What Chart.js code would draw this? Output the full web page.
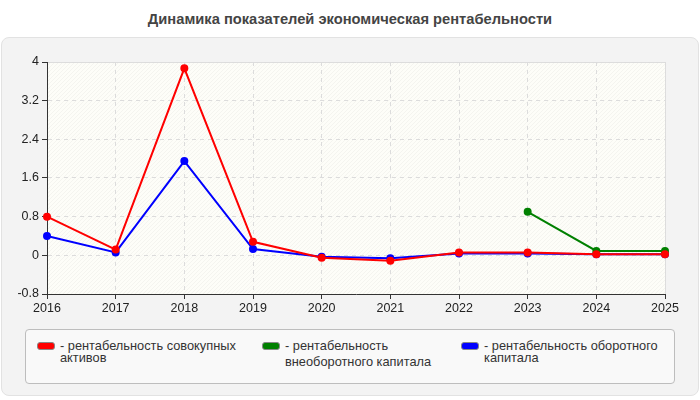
<!DOCTYPE html>
<html>
<head>
<meta charset="utf-8">
<script src="https://cdn.jsdelivr.net/npm/chart.js@4"></script>
<style>
  body { margin: 0; width: 700px; height: 400px; background: #fff; font-family: "Liberation Sans", Arial, sans-serif; position: relative; overflow: hidden; }
  #title { position: absolute; top: 11px; left: 0; width: 700px; text-align: center; font-weight: bold; font-size: 14.7px; color: #444; }
  #panel { position: absolute; left: 1px; top: 37px; width: 696px; height: 357px; background: #f3f3f3; border: 1px solid #e2e2e2; border-radius: 8px; }
  #wrap { position: absolute; left: 0; top: 40px; width: 700px; height: 280px; }
  #legend { position: absolute; left: 25px; top: 329px; width: 648px; height: 53px; background: #f9f9f9; border: 1px solid #bdbdbd; border-radius: 4px; }
  .item { position: absolute; top: 10px; font-size: 12.8px; color: #333; line-height: 12px; white-space: nowrap; }
  .sw { position: absolute; left: 0; top: 2px; width: 16px; height: 6px; border: 1px solid #888; border-radius: 3px; }
  .txt { position: absolute; left: 23px; top: 0; white-space: nowrap; }
</style>
</head>
<body>
<div id="title">Динамика показателей экономическая рентабельности</div>
<div id="panel"></div>
<div id="wrap"><canvas id="myChart" width="700" height="280"></canvas></div>
<div id="legend"></div>
<script>
const years = ["2016", "2017", "2018", "2019", "2020", "2021", "2022", "2023", "2024", "2025"];
const seriesNames = [
  ["рентабельность совокупных", "активов"],
  ["рентабельность", "внеоборотного капитала"],
  ["рентабельность оборотного", "капитала"]
];
const seriesColors = ["#ff0000", "#008000", "#0000ff"];
const totalAssets = [0.8, 0.12, 3.87, 0.28, -0.05, -0.11, 0.06, 0.06, 0.02, 0.02];
const fixedCapital = [null, null, null, null, null, null, null, 0.9, 0.09, 0.09];
const workingCapital = [0.4, 0.06, 1.95, 0.13, -0.03, -0.06, 0.04, 0.04, 0.02, 0.02];
const yTicks = [-0.8, 0, 0.8, 1.6, 2.4, 3.2, 4];

// legend in html (texts wrap over two lines)
const legendLeft = [11, 236, 435];
const legendBox = document.getElementById('legend');
seriesNames.forEach((name, i) => {
  const item = document.createElement('div');
  item.className = 'item';
  item.style.left = legendLeft[i] + 'px';
  const sw = document.createElement('div');
  sw.className = 'sw';
  sw.style.background = seriesColors[i];
  const txt = document.createElement('div');
  txt.className = 'txt';
  txt.innerHTML = '- ' + name[0] + '<br>' + (i === 1 ? '<span style="display:inline-block;margin-top:4px">' + name[1] + '</span>' : name[1]);
  item.appendChild(sw);
  item.appendChild(txt);
  legendBox.appendChild(item);
});

// striped plot background
const plotBg = {
  id: 'plotBg',
  beforeDraw(chart) {
    const { ctx, chartArea: a } = chart;
    ctx.save();
    ctx.fillStyle = '#fdfdf8';
    ctx.fillRect(a.left, a.top, a.right - a.left, a.bottom - a.top);
    ctx.beginPath();
    ctx.rect(a.left, a.top, a.right - a.left, a.bottom - a.top);
    ctx.clip();
    ctx.strokeStyle = 'rgba(0,0,0,0.035)';
    ctx.lineWidth = 1;
    for (let x = a.left - (a.bottom - a.top); x < a.right; x += 4) {
      ctx.beginPath();
      ctx.moveTo(x, a.bottom);
      ctx.lineTo(x + (a.bottom - a.top), a.top);
      ctx.stroke();
    }
    ctx.restore();
    // light frame top/right
    ctx.save();
    ctx.strokeStyle = '#dddddd';
    ctx.beginPath();
    ctx.moveTo(a.left, a.top + 0.5);
    ctx.lineTo(a.right + 0.5, a.top + 0.5);
    ctx.lineTo(a.right + 0.5, a.bottom);
    ctx.stroke();
    ctx.restore();
  }
};

const mk = (label, data, color) => ({
  label: label.join(' '),
  data: data,
  borderColor: color,
  backgroundColor: color,
  borderWidth: 2,
  pointRadius: 3,
  pointHoverRadius: 3,
  tension: 0,
  spanGaps: false
});

const ctx = document.getElementById('myChart').getContext('2d');
const myChart = new Chart(ctx, {
  type: 'line',
  data: {
    labels: years,
    datasets: [
      mk(seriesNames[0], totalAssets, seriesColors[0]),
      mk(seriesNames[1], fixedCapital, seriesColors[1]),
      mk(seriesNames[2], workingCapital, seriesColors[2])
    ]
  },
  plugins: [plotBg],
  options: {
    responsive: false,
    animation: false,
    layout: { padding: { top: 22, right: 35, left: 0, bottom: 0 } },
    plugins: { legend: { display: false }, title: { display: false }, tooltip: { enabled: false } },
    scales: {
      x: {
        offset: false,
        afterFit: s => { s.height = 26; },
        grid: { color: '#dcdcdc', tickColor: '#333', tickLength: 5, drawOnChartArea: true },
        border: { color: '#333', dash: [4, 4] },
        ticks: { color: '#222', font: { family: 'Liberation Sans', size: 12.5 }, padding: 2, maxRotation: 0, autoSkip: false }
      },
      y: {
        min: -0.8,
        max: 4,
        afterFit: s => { s.width = 47; },
        afterBuildTicks: s => { s.ticks = yTicks.map(v => ({ value: v })); },
        grid: { color: '#dcdcdc', tickColor: '#333', tickLength: 5 },
        border: { color: '#333', dash: [4, 4] },
        ticks: { color: '#222', font: { family: 'Liberation Sans', size: 12.5 }, padding: 3, callback: v => String(Math.round(v * 10) / 10) }
      }
    }
  }
});
</script>
</body>
</html>
